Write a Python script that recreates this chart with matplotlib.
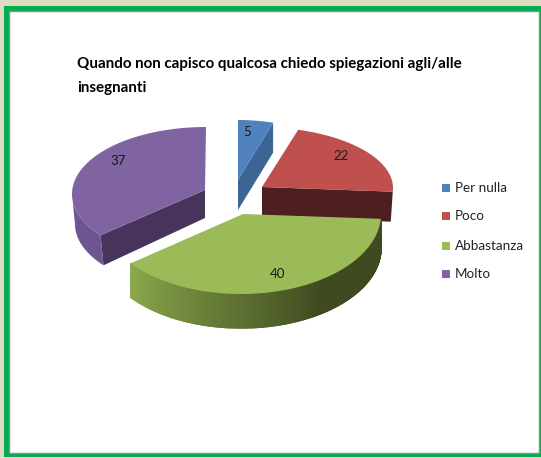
import numpy as np
import matplotlib
matplotlib.use('Agg')
import matplotlib.pyplot as plt
from matplotlib.patches import Polygon, Rectangle

# Data
categories = ['Per nulla', 'Poco', 'Abbastanza', 'Molto']
values = [5, 22, 40, 37]
title_lines = ['Quando non capisco qualcosa chiedo spiegazioni agli/alle', 'insegnanti']

# Look of each slice: apex in pixels, rim centre, radii, depth
colors = ['#4f81bd', '#c0504d', '#9bbb59', '#8064a2']
inner_colors = ['#3b6592', '#4d1f1e', '#3f4a20', '#46345a']
apex = [(238, 180), (262, 187), (243, 214), (205, 190)]
centres = [(238, 180), (258, 188), (241, 214), (206, 194)]
radii = [(118, 60), (135, 61), (140, 80), (134, 67)]
depths = [30, 30, 34, 30]
label_pos = [(247, 132), (341, 156), (278, 274), (118, 161)]
legend_y = [188, 216, 246, 274]

plt.rcParams['font.family'] = ['Lato', 'DejaVu Sans']

fig = plt.figure(figsize=(5.41, 4.58), dpi=100)
ax = fig.add_axes([0, 0, 1, 1])
ax.set_xlim(0, 541)
ax.set_ylim(458, 0)
ax.axis('off')

# Background and frame
ax.add_patch(Rectangle((0, 0), 541, 458, color='#e0dac2', lw=0))
ax.add_patch(Rectangle((4, 6), 537, 451, color='#00b050', lw=0))
ax.add_patch(Rectangle((8.5, 10.5), 530, 442, facecolor='white', edgecolor='#8c8c8c', lw=1))


def rim(i, t):
    return (centres[i][0] + radii[i][0] * np.sin(t), centres[i][1] - radii[i][1] * np.cos(t))


def blend(c1, c2, f):
    a = np.array(matplotlib.colors.to_rgb(c1))
    b = np.array(matplotlib.colors.to_rgb(c2))
    return a + (b - a) * f


edges = np.deg2rad(np.cumsum([0] + values) / sum(values) * 360)

for i in [3, 0, 1, 2]:
    start, end = edges[i], edges[i + 1]
    t = np.linspace(start, end, 400)
    x, y = rim(i, t)
    ax0, ay0 = apex[i]
    d = depths[i]

    # flat cut faces that look towards the viewer
    if i == 0:
        ax.add_patch(Polygon([(ax0, ay0), (x[-1], y[-1]), (x[-1], y[-1] + d), (ax0, ay0 + d)],
                             color=inner_colors[i], lw=0))
    if i == 1:
        ax.add_patch(Polygon([(ax0, ay0), (x[-1], y[-1]), (x[-1] - 2, y[-1] + d), (ax0, ay0 + d)],
                             color=inner_colors[i], lw=0))
    if i == 3:
        ax.add_patch(Polygon([(ax0, ay0), (x[0], y[0]), (x[0] + 3, y[0] + d), (ax0, ay0 + d - 2)],
                             color=inner_colors[i], lw=0))

    # curved outer side, only the front part shows
    if i == 2:
        for k in range(len(t) - 1):
            if np.cos(t[k]) < 0.05:
                f = (t[-1] - t[k]) / (t[-1] - t[0])
                c = blend('#8aa84c', inner_colors[i], min(1, f * 1.6))
                ax.add_patch(Polygon([(x[k], y[k]), (x[k + 1], y[k + 1]),
                                      (x[k + 1], y[k + 1] + d), (x[k], y[k] + d)],
                                     facecolor=c, edgecolor=c, lw=1))
    if i == 3:
        keep = t < np.deg2rad(270)
        xs, ys = x[keep], y[keep]
        pts = list(zip(xs, ys)) + list(zip(xs[::-1] + 3 * (xs[::-1] < xs[0] + 3), ys[::-1] + d))
        ax.add_patch(Polygon(pts, color='#6d5690', lw=0))

    # top surface
    ax.add_patch(Polygon([(ax0, ay0)] + list(zip(x, y)), color=colors[i], lw=0))

    ax.text(label_pos[i][0], label_pos[i][1], str(values[i]), ha='center', va='center',
            fontsize=9.5, color='#1a1a1a')

# Title
for line, yy in zip(title_lines, [64, 88]):
    ax.text(77, yy, line, ha='left', va='center', fontsize=10.9, fontweight='bold', color='black')

# Legend
for name, c, yy in zip(categories, colors, legend_y):
    ax.add_patch(Rectangle((442, yy - 4), 8, 8, color=c, lw=0))
    ax.text(455, yy, name, ha='left', va='center', fontsize=9.7, color='#222222')

fig.savefig('out.png', dpi=100)
